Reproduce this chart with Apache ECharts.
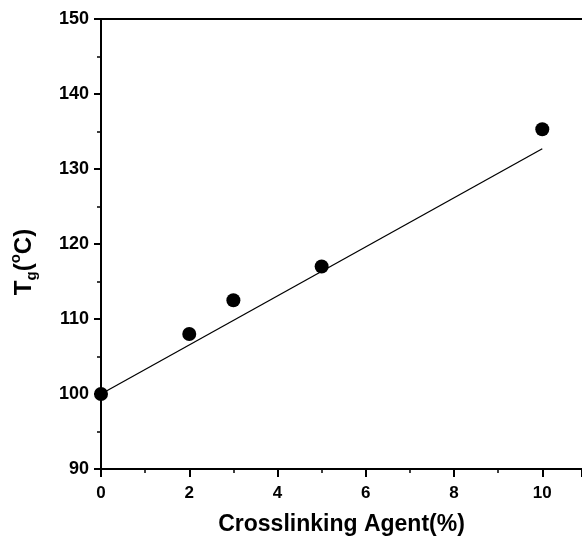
<!DOCTYPE html>
<html><head><meta charset="utf-8">
<script src="https://cdn.jsdelivr.net/npm/echarts@6/dist/echarts.min.js"></script>
<style>html,body{margin:0;padding:0;background:#fff}#c{width:582px;height:538px}</style>
</head><body><div id="c"></div>
<script>
var xValues = [0, 2, 3, 5, 10];
var tgValues = [100, 108, 112.5, 117, 135.3];
var fitX = [0, 10];
var fitY = [100, 132.7];
var xTicks = [0, 2, 4, 6, 8, 10];
var yTicks = [90, 100, 110, 120, 130, 140, 150];

var chart = echarts.init(document.getElementById('c'), null, {renderer:'canvas'});
var font = 'Liberation Sans, Arial, sans-serif';
chart.setOption({
  animation: false,
  grid: {left: 101, right: 0, top: 19, bottom: 69, outerBoundsMode: 'none', containLabel: false},
  xAxis: [{
    type: 'value', min: 0, max: 10.9, interval: 2,
    name: 'Crosslinking Agent(%)', nameLocation: 'middle', nameGap: 44,
    nameTextStyle: {fontFamily: font, fontWeight: 'bold', fontSize: 23, color: '#000'},
    axisLine: {onZero: false, lineStyle: {color: '#000', width: 2}},
    axisTick: {inside: false, length: 8, lineStyle: {color: '#000', width: 2}},
    minorTick: {show: true, splitNumber: 2, length: 4, lineStyle: {color: '#000', width: 1.5}},
    axisLabel: {fontFamily: font, fontWeight: 'bold', fontSize: 17, color: '#000', margin: 16,
      showMaxLabel: false,
      formatter: function(v){ return xTicks.indexOf(v) >= 0 ? String(v) : ''; }},
    splitLine: {show: false}
  }, {
    type: 'value', position: 'top', min: 0, max: 10.9,
    axisLine: {onZero: false, lineStyle: {color: '#000', width: 2}},
    axisTick: {show: false}, axisLabel: {show: false}, splitLine: {show: false}
  }],
  yAxis: {
    type: 'value', min: 90, max: 150, interval: 10,
    axisLine: {onZero: false, lineStyle: {color: '#000', width: 2}},
    axisTick: {inside: false, length: 7, lineStyle: {color: '#000', width: 2}},
    minorTick: {show: true, splitNumber: 2, length: 4, lineStyle: {color: '#000', width: 1.5}},
    axisLabel: {fontFamily: font, fontWeight: 'bold', fontSize: 18, color: '#000', margin: 12,
      formatter: function(v){ return yTicks.indexOf(v) >= 0 ? String(v) : ''; }},
    splitLine: {show: false}
  },
  graphic: [{
    type: 'text', x: 24, y: 262, rotation: Math.PI / 2,
    style: {
      text: 'T{sub|g}({sup|o}C)',
      fontFamily: font, fontWeight: 'bold', fontSize: 24, fill: '#000',
      align: 'center', verticalAlign: 'middle',
      rich: {
        sub: {fontFamily: font, fontWeight: 'bold', fontSize: 15, fill: '#000', verticalAlign: 'bottom', padding: [16,0,0,0]},
        sup: {fontFamily: font, fontWeight: 'bold', fontSize: 15, fill: '#000', verticalAlign: 'top', padding: [0,0,10,0]}
      }
    }
  }],
  series: [{
    type: 'line', data: fitX.map(function(x,i){return [x, fitY[i]];}),
    showSymbol: false, lineStyle: {color: '#000', width: 1.3}, z: 2
  }, {
    type: 'scatter', data: xValues.map(function(x,i){return [x, tgValues[i]];}),
    symbol: 'circle', symbolSize: 14, itemStyle: {color: '#000', opacity: 1}, z: 3
  }]
});
</script></body></html>
